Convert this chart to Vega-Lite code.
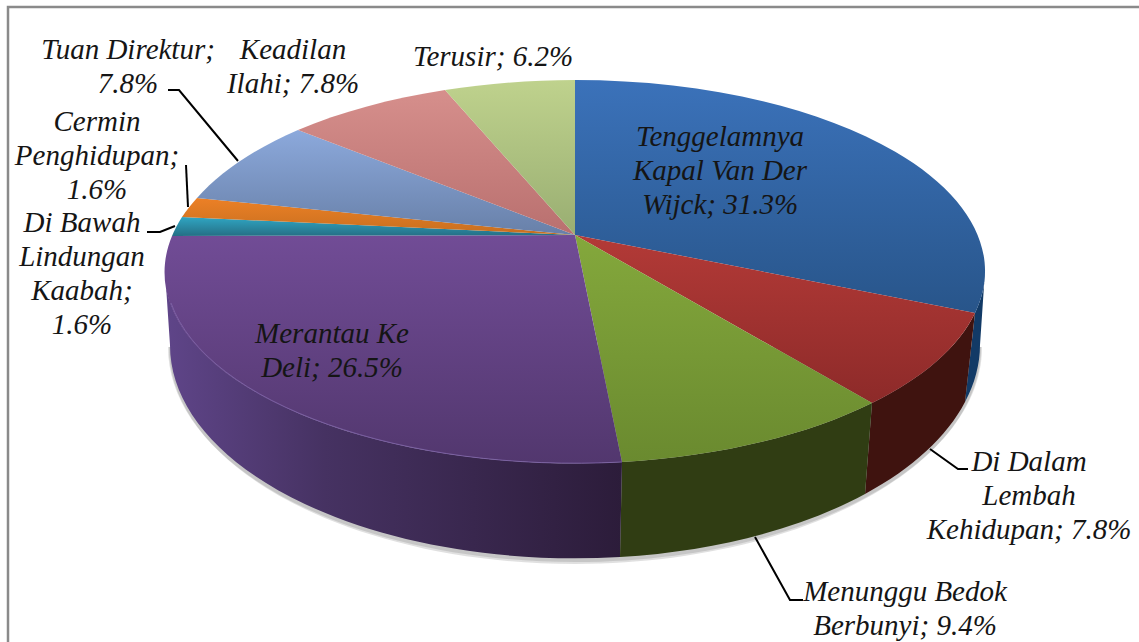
{
"$schema":"https://vega.github.io/schema/vega-lite/v6.json",
"width":1139,"height":642,"padding":0,"autosize":{"type":"none"},"background":"white",
"config":{"view":{"stroke":null}},
"datasets":{
"slices":[
{"slice":"Tenggelamnya Kapal Van Der Wijck","pct":31.3,"label":"Tenggelamnya\nKapal Van Der\nWijck; 31.3%","lx":720,"ly":137},
{"slice":"Di Dalam Lembah Kehidupan","pct":7.8,"label":"Di Dalam\nLembah\nKehidupan; 7.8%","lx":1029,"ly":462},
{"slice":"Menunggu Bedok Berbunyi","pct":9.4,"label":"Menunggu Bedok\nBerbunyi; 9.4%","lx":905,"ly":592},
{"slice":"Merantau Ke Deli","pct":26.5,"label":"Merantau Ke\nDeli; 26.5%","lx":332,"ly":334},
{"slice":"Di Bawah Lindungan Kaabah","pct":1.6,"label":"Di Bawah\nLindungan\nKaabah;\n1.6%","lx":82,"ly":223},
{"slice":"Cermin Penghidupan","pct":1.6,"label":"Cermin\nPenghidupan;\n1.6%","lx":97,"ly":122},
{"slice":"Tuan Direktur","pct":7.8,"label":"Tuan Direktur;\n7.8%","lx":128,"ly":50},
{"slice":"Keadilan Ilahi","pct":7.8,"label":"Keadilan\nIlahi; 7.8%","lx":293,"ly":50},
{"slice":"Terusir","pct":6.2,"label":"Terusir; 6.2%","lx":493,"ly":57}
],
"leaders":[
{"leader":"Tuan","step":1,"x":168,"y":90},{"leader":"Tuan","step":2,"x":179,"y":90},{"leader":"Tuan","step":3,"x":238,"y":161},
{"leader":"Cermin","step":1,"x":186,"y":165},{"leader":"Cermin","step":2,"x":188,"y":207},
{"leader":"Bawah","step":1,"x":147,"y":232},{"leader":"Bawah","step":2,"x":160,"y":232},{"leader":"Bawah","step":3,"x":175,"y":226},
{"leader":"Dalam","step":1,"x":930,"y":449},{"leader":"Dalam","step":2,"x":958,"y":469},{"leader":"Dalam","step":3,"x":968,"y":469},
{"leader":"Menunggu","step":1,"x":755,"y":537},{"leader":"Menunggu","step":2,"x":790,"y":600},{"leader":"Menunggu","step":3,"x":803,"y":600}
],
"frame":[{"step":1,"x":8,"y":642},{"step":2,"x":8,"y":7},{"step":3,"x":1139,"y":7}],
"disc":[{"part":"shadow1"},{"part":"shadow2"}]
},
"layer":[
{"data":{"name":"frame"},"mark":{"type":"line","color":"#8a8a8a","strokeWidth":2.5},
"encoding":{"x":{"field":"x","type":"quantitative","scale":{"domain":[0,1139],"nice":false,"zero":false},"axis":null},
"y":{"field":"y","type":"quantitative","scale":{"domain":[642,0],"nice":false,"zero":false},"axis":null},"order":{"field":"step"}}},
{"data":{"name":"disc"},"mark":{"type":"point","filled":true,"fill":"#555555","opacity":0.18,"strokeWidth":0},
"encoding":{"x":{"datum":575,"type":"quantitative"},"y":{"datum":271,"type":"quantitative"},"size":{"value":4},
"shape":{"field":"part","type":"nominal","legend":null,"scale":{"domain":["shadow1","shadow2"],"range":["M-407 76 A407 215 0 0 0 407 76 Z","M-406 76 A406 217 0 0 0 406 76 Z"]}}}},
{"data":{"name":"slices"},"transform":[{"filter":{"field":"slice","oneOf":["Tenggelamnya Kapal Van Der Wijck","Di Dalam Lembah Kehidupan","Menunggu Bedok Berbunyi","Merantau Ke Deli"]}}],
"mark":{"type":"point","filled":true,"opacity":1,"strokeWidth":0},
"encoding":{"x":{"datum":575,"type":"quantitative"},"y":{"datum":271,"type":"quantitative"},"size":{"value":4},
"shape":{"field":"slice","type":"nominal","legend":null,"scale":{"domain":["Tenggelamnya Kapal Van Der Wijck","Di Dalam Lembah Kehidupan","Menunggu Bedok Berbunyi","Merantau Ke Deli"],
"range":["M410 0 A410 191 0 0 1 400 42 L390 131 A405 213 0 0 0 405 74 Z","M400 42 A410 191 0 0 1 297 132 L290 223 A405 213 0 0 0 390 131 Z","M297 132 A410 191 0 0 1 47 191 L45 286 A405 213 0 0 0 290 223 Z","M47 191 A410 191 0 0 1 -410 0 L-405 74 A405 213 0 0 0 45 286 Z"]}},
"fill":{"condition":[
{"test":"datum.slice==='Tenggelamnya Kapal Van Der Wijck'","value":"#123a66"},
{"test":"datum.slice==='Di Dalam Lembah Kehidupan'","value":"#3f130f"},
{"test":"datum.slice==='Menunggu Bedok Berbunyi'","value":"#303d13"}],
"value":{"gradient":"linear","x1":0,"y1":0,"x2":1,"y2":0,"stops":[{"offset":0,"color":"#5f4589"},{"offset":0.35,"color":"#463262"},{"offset":1,"color":"#2c1c3a"}]}}}},
{"data":{"name":"slices"},
"mark":{"type":"point","filled":true,"opacity":1,"strokeWidth":0},
"encoding":{"x":{"datum":575,"type":"quantitative"},"y":{"datum":271,"type":"quantitative"},"size":{"value":4},
"shape":{"field":"slice","type":"nominal","legend":null,"scale":{"domain":["Tenggelamnya Kapal Van Der Wijck","Di Dalam Lembah Kehidupan","Menunggu Bedok Berbunyi","Merantau Ke Deli","Di Bawah Lindungan Kaabah","Cermin Penghidupan","Tuan Direktur","Keadilan Ilahi","Terusir"],
"range":["M0 -36 L0 -191 A410 191 0 0 1 400 42 Z","M0 -36 L400 42 A410 191 0 0 1 297 132 Z","M0 -36 L297 132 A410 191 0 0 1 47 191 Z","M0 -36 L47 191 A410 191 0 0 1 -403 -35 Z","M0 -36 L-403 -35 A410 191 0 0 1 -393 -54 Z","M0 -36 L-393 -54 A410 191 0 0 1 -378 -73 Z","M0 -36 L-378 -73 A410 191 0 0 1 -277 -141 Z","M0 -36 L-277 -141 A410 191 0 0 1 -130 -181 Z","M0 -36 L-130 -181 A410 191 0 0 1 0 -191 Z"]}},
"fill":{"condition":[
{"test":"datum.slice==='Tenggelamnya Kapal Van Der Wijck'","value":{"gradient":"linear","x1":0,"y1":0,"x2":0,"y2":1,"stops":[{"offset":0,"color":"#3b72ba"},{"offset":1,"color":"#28558a"}]}},
{"test":"datum.slice==='Di Dalam Lembah Kehidupan'","value":{"gradient":"linear","x1":0,"y1":0,"x2":0,"y2":1,"stops":[{"offset":0,"color":"#b33a37"},{"offset":1,"color":"#8d2a29"}]}},
{"test":"datum.slice==='Menunggu Bedok Berbunyi'","value":{"gradient":"linear","x1":0,"y1":0,"x2":0,"y2":1,"stops":[{"offset":0,"color":"#84a83c"},{"offset":1,"color":"#6a8a2f"}]}},
{"test":"datum.slice==='Merantau Ke Deli'","value":{"gradient":"linear","x1":0,"y1":0,"x2":0,"y2":1,"stops":[{"offset":0,"color":"#714c96"},{"offset":1,"color":"#52376e"}]}},
{"test":"datum.slice==='Di Bawah Lindungan Kaabah'","value":{"gradient":"linear","x1":0,"y1":0,"x2":0,"y2":1,"stops":[{"offset":0,"color":"#30a6c3"},{"offset":1,"color":"#256f85"}]}},
{"test":"datum.slice==='Cermin Penghidupan'","value":{"gradient":"linear","x1":0,"y1":0,"x2":0,"y2":1,"stops":[{"offset":0,"color":"#ec8026"},{"offset":1,"color":"#c76f1f"}]}},
{"test":"datum.slice==='Tuan Direktur'","value":{"gradient":"linear","x1":0,"y1":0,"x2":0,"y2":1,"stops":[{"offset":0,"color":"#8ca9dc"},{"offset":1,"color":"#6880a8"}]}},
{"test":"datum.slice==='Keadilan Ilahi'","value":{"gradient":"linear","x1":0,"y1":0,"x2":0,"y2":1,"stops":[{"offset":0,"color":"#d68f8c"},{"offset":1,"color":"#b9706f"}]}}],
"value":{"gradient":"linear","x1":0,"y1":0,"x2":0,"y2":1,"stops":[{"offset":0,"color":"#bfd28d"},{"offset":1,"color":"#99ae72"}]}}}},
{"data":{"name":"slices"},"transform":[{"filter":{"field":"slice","equal":"Merantau Ke Deli"}}],
"mark":{"type":"point","filled":false,"fill":null,"stroke":"#8268ad","strokeWidth":1,"opacity":0.8},
"encoding":{"x":{"datum":575,"type":"quantitative"},"y":{"datum":271,"type":"quantitative"},"size":{"value":4},
"shape":{"field":"slice","type":"nominal","legend":null,"scale":{"domain":["Merantau Ke Deli"],"range":["M47 191 A410 191 0 0 1 -404 32"]}}}},
{"data":{"name":"leaders"},"mark":{"type":"line","color":"#000000","strokeWidth":2},
"encoding":{"x":{"field":"x","type":"quantitative"},"y":{"field":"y","type":"quantitative"},"detail":{"field":"leader"},"order":{"field":"step"}}},
{"data":{"name":"slices"},"mark":{"type":"text","lineBreak":"\n","lineHeight":34,"font":"Liberation Serif","fontStyle":"italic","fontSize":29,"color":"#151515","align":"center","baseline":"middle"},
"encoding":{"x":{"field":"lx","type":"quantitative"},"y":{"field":"ly","type":"quantitative"},"text":{"field":"label"}}}
],
"resolve":{"scale":{"shape":"independent"}}
}
